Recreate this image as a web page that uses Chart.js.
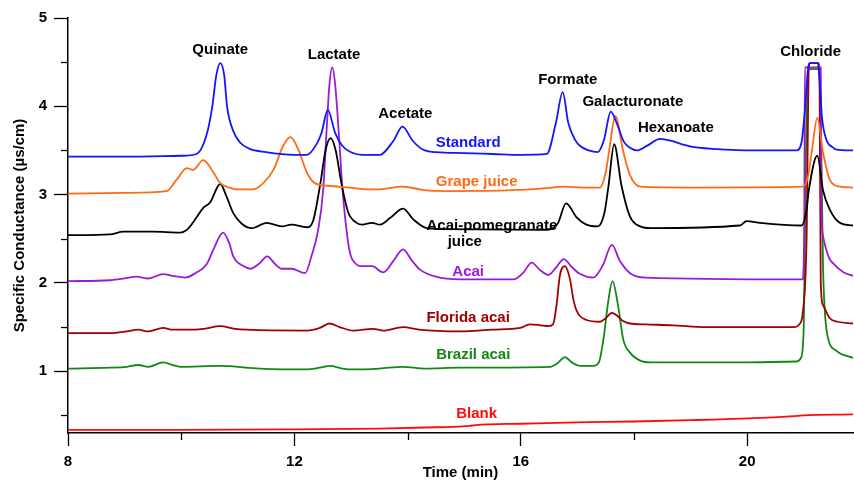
<!DOCTYPE html>
<html>
<head>
<meta charset="utf-8">
<script src="https://cdn.jsdelivr.net/npm/chart.js@4.4.1/dist/chart.umd.min.js"></script>
<style>
  html, body { margin: 0; padding: 0; background: #fff; }
</style>
</head>
<body>
<canvas id="chromChart" width="854" height="480"></canvas>
<script>
// axis ticks
const xTickValues = [8, 10, 12, 14, 16, 18, 20];
const yTickValues = [0.5, 1, 1.5, 2, 2.5, 3, 3.5, 4, 4.5, 5];

// Standard
const standardTime = [8.00, 9.00, 10.00, 10.27, 10.45, 10.55, 10.62, 10.69, 10.76, 10.81, 10.92, 11.04, 11.20, 11.50, 12.00, 12.22, 12.40, 12.48, 12.59, 12.72, 12.85, 13.00, 13.20, 13.51, 13.75, 13.91, 14.09, 14.27, 14.50, 15.00, 15.50, 16.00, 16.46, 16.62, 16.74, 16.84, 16.96, 17.05, 17.20, 17.36, 17.47, 17.59, 17.70, 17.82, 17.93, 18.05, 18.25, 18.46, 18.65, 18.85, 19.04, 19.64, 20.40, 20.87, 20.96, 21.02, 21.08, 21.11, 21.24, 21.28, 21.32, 21.40, 21.50, 21.58, 21.87];
const standardValue = [3.43, 3.43, 3.44, 3.46, 3.68, 4.00, 4.35, 4.49, 4.35, 4.00, 3.72, 3.59, 3.52, 3.48, 3.45, 3.45, 3.58, 3.70, 3.96, 3.70, 3.55, 3.48, 3.45, 3.45, 3.61, 3.77, 3.61, 3.51, 3.48, 3.47, 3.46, 3.45, 3.46, 3.81, 4.16, 3.81, 3.62, 3.55, 3.50, 3.48, 3.62, 3.94, 3.80, 3.60, 3.53, 3.50, 3.56, 3.63, 3.61, 3.57, 3.54, 3.51, 3.50, 3.50, 3.59, 3.95, 4.45, 4.49, 4.49, 4.30, 3.89, 3.62, 3.54, 3.51, 3.50];

// Grape juice
const grapeTime = [8.00, 9.00, 9.74, 9.92, 10.10, 10.21, 10.39, 10.57, 10.69, 10.85, 10.98, 11.27, 11.45, 11.63, 11.80, 11.93, 12.07, 12.22, 12.36, 12.60, 12.98, 13.30, 13.51, 13.91, 14.30, 14.69, 15.86, 16.40, 16.78, 17.10, 17.40, 17.50, 17.56, 17.67, 17.81, 17.93, 18.11, 19.00, 20.99, 21.08, 21.14, 21.24, 21.34, 21.46, 21.64, 21.87];
const grapeValue = [3.01, 3.02, 3.04, 3.17, 3.30, 3.28, 3.39, 3.25, 3.13, 3.08, 3.06, 3.06, 3.13, 3.28, 3.55, 3.65, 3.51, 3.25, 3.13, 3.10, 3.08, 3.06, 3.06, 3.09, 3.05, 3.04, 3.05, 3.07, 3.09, 3.08, 3.08, 3.25, 3.49, 3.89, 3.49, 3.22, 3.09, 3.08, 3.09, 3.22, 3.48, 3.87, 3.48, 3.17, 3.09, 3.08];

// Acai-pomegranate juice
const pomTime = [8.00, 8.74, 8.98, 9.50, 9.98, 10.10, 10.27, 10.39, 10.51, 10.69, 10.80, 10.92, 11.07, 11.25, 11.51, 11.78, 11.95, 12.22, 12.33, 12.46, 12.55, 12.64, 12.73, 12.83, 12.95, 13.10, 13.20, 13.37, 13.51, 13.70, 13.92, 14.10, 14.34, 14.60, 16.40, 16.57, 16.66, 16.80, 16.99, 17.16, 17.36, 17.48, 17.55, 17.65, 17.78, 17.93, 18.11, 18.30, 19.87, 19.99, 20.23, 20.96, 21.05, 21.09, 21.24, 21.34, 21.46, 21.64, 21.87];
const pomValue = [2.54, 2.55, 2.58, 2.58, 2.57, 2.60, 2.74, 2.85, 2.91, 3.12, 2.98, 2.79, 2.67, 2.62, 2.68, 2.64, 2.66, 2.63, 2.70, 3.13, 3.50, 3.64, 3.50, 3.13, 2.80, 2.68, 2.66, 2.68, 2.66, 2.74, 2.84, 2.72, 2.62, 2.61, 2.60, 2.62, 2.68, 2.90, 2.74, 2.66, 2.64, 2.80, 3.10, 3.57, 3.10, 2.75, 2.64, 2.62, 2.65, 2.70, 2.68, 2.65, 2.83, 3.05, 3.44, 3.05, 2.83, 2.68, 2.65];

// Acai
const acaiTime = [8.00, 8.74, 9.00, 9.21, 9.42, 9.68, 9.85, 10.07, 10.25, 10.45, 10.57, 10.74, 10.85, 10.92, 11.10, 11.22, 11.38, 11.52, 11.65, 11.78, 11.95, 12.19, 12.30, 12.42, 12.51, 12.57, 12.62, 12.67, 12.72, 12.78, 12.85, 12.93, 12.99, 13.08, 13.16, 13.37, 13.57, 13.75, 13.92, 14.08, 14.22, 14.50, 14.93, 15.87, 16.05, 16.19, 16.35, 16.49, 16.62, 16.76, 16.90, 17.05, 17.28, 17.45, 17.61, 17.75, 17.93, 18.20, 20.81, 20.98, 21.01, 21.02, 21.30, 21.31, 21.34, 21.45, 21.52, 21.70, 21.87];
const acaiValue = [2.02, 2.03, 2.05, 2.07, 2.05, 2.10, 2.08, 2.06, 2.11, 2.21, 2.38, 2.57, 2.45, 2.30, 2.19, 2.16, 2.22, 2.30, 2.22, 2.16, 2.16, 2.11, 2.30, 2.60, 3.06, 3.74, 4.25, 4.44, 4.25, 3.74, 3.06, 2.55, 2.32, 2.22, 2.19, 2.19, 2.12, 2.25, 2.38, 2.25, 2.15, 2.07, 2.04, 2.04, 2.12, 2.23, 2.14, 2.09, 2.17, 2.27, 2.18, 2.10, 2.06, 2.20, 2.43, 2.25, 2.11, 2.06, 2.04, 2.04, 2.80, 4.44, 4.44, 2.90, 2.53, 2.28, 2.22, 2.12, 2.08];

// Florida acai
const floridaTime = [8.00, 8.74, 9.04, 9.24, 9.42, 9.68, 9.85, 10.10, 10.40, 10.69, 10.95, 11.16, 12.22, 12.45, 12.62, 12.80, 13.04, 13.39, 13.57, 13.92, 14.20, 14.93, 15.50, 15.99, 16.16, 16.35, 16.49, 16.57, 16.63, 16.69, 16.78, 16.87, 16.93, 16.99, 17.16, 17.40, 17.50, 17.61, 17.72, 17.80, 17.93, 18.20, 18.69, 19.28, 20.84, 20.92, 20.98, 21.05, 21.09, 21.11, 21.26, 21.28, 21.30, 21.34, 21.46, 21.60, 21.87];
const floridaValue = [1.43, 1.43, 1.45, 1.47, 1.45, 1.49, 1.47, 1.47, 1.48, 1.51, 1.48, 1.47, 1.46, 1.49, 1.54, 1.50, 1.46, 1.48, 1.46, 1.50, 1.47, 1.45, 1.47, 1.49, 1.53, 1.52, 1.51, 1.53, 1.74, 2.08, 2.19, 2.04, 1.81, 1.68, 1.58, 1.56, 1.60, 1.66, 1.62, 1.57, 1.54, 1.53, 1.52, 1.50, 1.50, 1.53, 1.65, 2.50, 4.45, 4.49, 4.49, 4.20, 2.00, 1.75, 1.60, 1.56, 1.54];

// Brazil acai
const brazilTime = [8.00, 8.74, 9.04, 9.24, 9.42, 9.68, 9.85, 9.98, 10.69, 11.39, 12.22, 12.45, 12.63, 12.85, 13.04, 13.50, 13.92, 14.30, 14.93, 16.52, 16.65, 16.78, 16.90, 17.05, 17.28, 17.38, 17.46, 17.55, 17.62, 17.72, 17.81, 17.93, 18.11, 18.30, 20.00, 20.87, 20.95, 21.00, 21.04, 21.08, 21.28, 21.31, 21.34, 21.37, 21.42, 21.58, 21.87];
const brazilValue = [1.03, 1.04, 1.05, 1.07, 1.05, 1.10, 1.07, 1.05, 1.06, 1.03, 1.02, 1.04, 1.06, 1.03, 1.02, 1.03, 1.05, 1.03, 1.04, 1.05, 1.09, 1.16, 1.10, 1.06, 1.06, 1.10, 1.36, 1.81, 2.02, 1.74, 1.36, 1.21, 1.12, 1.10, 1.10, 1.11, 1.15, 1.50, 3.50, 4.42, 4.42, 3.50, 2.20, 1.70, 1.40, 1.23, 1.15];

// Blank
const blankTime = [8.00, 10.00, 12.00, 13.50, 14.50, 15.10, 15.20, 16.00, 17.00, 18.00, 19.00, 20.00, 20.90, 21.00, 21.87];
const blankValue = [0.335, 0.335, 0.34, 0.35, 0.365, 0.38, 0.39, 0.405, 0.42, 0.43, 0.445, 0.465, 0.495, 0.50, 0.51];

// text labels: [text, time, level, colour]
const labels = [
  ['Quinate', 10.69, 4.64, '#000'],
  ['Lactate', 12.70, 4.58, '#000'],
  ['Acetate', 13.96, 3.92, '#000'],
  ['Formate', 16.83, 4.30, '#000'],
  ['Galacturonate', 17.98, 4.05, '#000'],
  ['Hexanoate', 18.74, 3.76, '#000'],
  ['Chloride', 21.12, 4.62, '#000'],
  ['Standard', 15.07, 3.59, '#1414ff'],
  ['Grape juice', 15.22, 3.14, '#ff6a14'],
  ['Acai-pomegranate', 15.49, 2.65, '#000'],
  ['juice', 15.01, 2.47, '#000'],
  ['Acai', 15.07, 2.13, '#9a1ad8'],
  ['Florida acai', 15.07, 1.60, '#a00000'],
  ['Brazil acai', 15.16, 1.18, '#118811'],
  ['Blank', 15.22, 0.52, '#ff0a0a']
];

function toPoints(ts, vs) {
  return ts.map((t, i) => ({ x: t, y: vs[i] }));
}

function trace(label, ts, vs, color) {
  return {
    label: label,
    data: toPoints(ts, vs),
    borderColor: color,
    borderWidth: 1.8,
    pointRadius: 0,
    fill: false,
    cubicInterpolationMode: 'monotone'
  };
}

const font = '"Liberation Sans", Arial, Helvetica, sans-serif';

const overlay = {
  id: 'overlay',
  afterDraw(chart) {
    const { ctx } = chart;
    const x = chart.scales.x;
    const y = chart.scales.y;
    ctx.save();
    ctx.strokeStyle = '#000';
    ctx.lineWidth = 1.3;
    // short minor ticks
    xTickValues.filter(v => v % 4 !== 0).forEach(v => {
      const px = Math.round(x.getPixelForValue(v)) + 0.5;
      ctx.beginPath();
      ctx.moveTo(px, x.top);
      ctx.lineTo(px, x.top + 7);
      ctx.stroke();
    });
    yTickValues.filter(v => !Number.isInteger(v)).forEach(v => {
      const py = Math.round(y.getPixelForValue(v)) + 0.5;
      ctx.beginPath();
      ctx.moveTo(y.right, py);
      ctx.lineTo(y.right - 7, py);
      ctx.stroke();
    });
    ctx.font = 'bold 15px ' + font;
    ctx.textAlign = 'center';
    ctx.textBaseline = 'middle';
    labels.forEach(([text, t, v, color]) => {
      ctx.fillStyle = color;
      ctx.fillText(text, x.getPixelForValue(t), y.getPixelForValue(v));
    });
    ctx.restore();
  }
};

const ctx = document.getElementById('chromChart').getContext('2d');

new Chart(ctx, {
  type: 'line',
  data: {
    datasets: [
      trace('Standard', standardTime, standardValue, '#1414ff'),
      trace('Grape juice', grapeTime, grapeValue, '#ff6a14'),
      trace('Acai-pomegranate juice', pomTime, pomValue, '#000000'),
      trace('Acai', acaiTime, acaiValue, '#9a1ad8'),
      trace('Florida acai', floridaTime, floridaValue, '#a00000'),
      trace('Brazil acai', brazilTime, brazilValue, '#118811'),
      trace('Blank', blankTime, blankValue, '#ff0a0a')
    ]
  },
  options: {
    responsive: false,
    animation: false,
    layout: { padding: { top: 18, right: 1, left: 0, bottom: 0 } },
    plugins: {
      legend: { display: false },
      tooltip: { enabled: false }
    },
    scales: {
      x: {
        type: 'linear',
        min: 8,
        max: 21.87,
        afterBuildTicks: s => { s.ticks = xTickValues.map(v => ({ value: v })); },
        afterFit: s => { s.height = 47; },
        ticks: {
          autoSkip: false,
          maxRotation: 0,
          padding: 7,
          color: '#000',
          font: { family: font, size: 15, weight: 'bold' },
          callback: v => (v % 4 === 0 ? String(v) : '')
        },
        grid: {
          drawOnChartArea: false,
          tickLength: 13,
          tickWidth: 1.3,
          tickColor: c => (c.tick && c.tick.value % 4 === 0 ? '#000' : 'rgba(0,0,0,0)')
        },
        border: { color: '#000', width: 1.5 },
        title: {
          display: true,
          text: 'Time (min)',
          color: '#000',
          padding: 0,
          font: { family: font, size: 15, weight: 'bold', lineHeight: 1 }
        }
      },
      y: {
        type: 'linear',
        min: 0.3,
        max: 5,
        afterBuildTicks: s => { s.ticks = yTickValues.map(v => ({ value: v })); },
        afterFit: s => { s.width = 68; },
        ticks: {
          padding: 7,
          color: '#000',
          font: { family: font, size: 15, weight: 'bold' },
          callback: v => (Number.isInteger(v) ? String(v) : '')
        },
        grid: {
          drawOnChartArea: false,
          tickLength: 14,
          tickWidth: 1.3,
          tickColor: c => (c.tick && Number.isInteger(c.tick.value) ? '#000' : 'rgba(0,0,0,0)')
        },
        border: { color: '#000', width: 1.5 },
        title: {
          display: true,
          text: 'Specific Conductance (µs/cm)',
          color: '#000',
          padding: { top: 11, bottom: 0 },
          font: { family: font, size: 15, weight: 'bold' }
        }
      }
    }
  },
  plugins: [overlay]
});
</script>
</body>
</html>
